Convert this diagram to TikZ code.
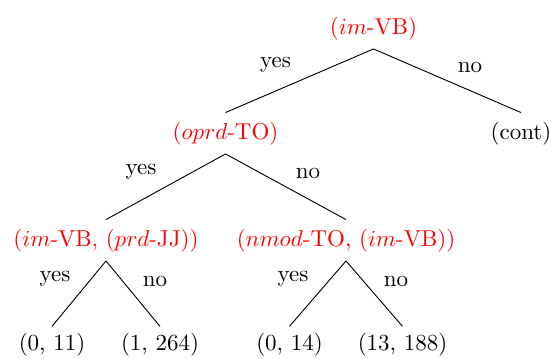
\documentclass[tikz,border=0pt]{standalone}
\begin{document}
\begin{tikzpicture}[x=0.4348pt,y=-0.4348pt,
  tn/.style={anchor=base,inner xsep=0pt,inner ysep=4pt,outer sep=0pt,text height=7.5pt,text depth=2.5pt},
  cond/.style={tn,text=red},
  leaf/.style={tn,inner ysep=3pt},
  lab/.style={anchor=base,inner sep=0pt},
  edge/.style={draw=black,line width=0.4pt}]
\useasboundingbox (0,0) rectangle (553,358);
% nodes
\node[cond] (r)  at (373.5,34) {($im$-VB)};
\node[cond] (a)  at (225.5,139) {($oprd$-TO)};
\node[tn]   (c)  at (521,139) {(cont)};
\node[cond] (b1) at (106,246) {($im$-VB, ($prd$-JJ))};
\node[cond] (b2) at (346,246) {($nmod$-TO, ($im$-VB))};
\node[leaf] (l1) at (52,350.5) {(0, 11)};
\node[leaf] (l2) at (160,350.5) {(1, 264)};
\node[leaf] (l3) at (289.5,350.5) {(0, 14)};
\node[leaf] (l4) at (402.5,350.5) {(13, 188)};
% edges
\draw[edge] (r.south) -- (a.north);
\draw[edge] (r.south) -- (c.north);
\draw[edge] (a.south) -- (b1.north);
\draw[edge] (a.south) -- (b2.north);
\draw[edge] (b1.south) -- (l1.north);
\draw[edge] (b1.south) -- (l2.north);
\draw[edge] (b2.south) -- (l3.north);
\draw[edge] (b2.south) -- (l4.north);
% edge labels
\node[lab] (y0) at (275.5,67) {yes};
\node[lab] (n0) at (470,72) {no};
\node[lab] (y1) at (141,174) {yes};
\node[lab] (n1) at (308,178) {no};
\node[lab] (y2) at (55,281) {yes};
\node[lab] (n2) at (155,286) {no};
\node[lab] (y3) at (293,281) {yes};
\node[lab] (n3) at (396,286) {no};
\end{tikzpicture}
\end{document}
